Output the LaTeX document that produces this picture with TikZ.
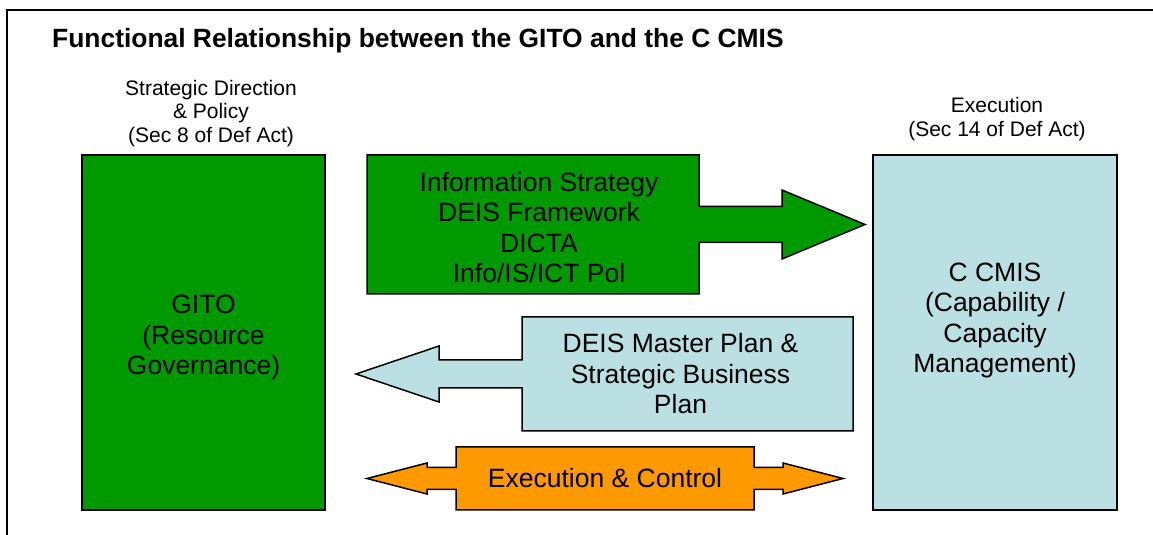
\documentclass[tikz,border=0pt]{standalone}
\usepackage{fontspec}
\setmainfont{Liberation Sans}
\usetikzlibrary{positioning,backgrounds}

\definecolor{gitogreen}{RGB}{0,153,0}
\definecolor{cmisblue}{RGB}{187,224,227}
\definecolor{ctrlorange}{RGB}{255,153,0}

\begin{document}
\begin{tikzpicture}[
        x=1pt, y=1pt,
        font=\fontsize{26.5}{30.5}\selectfont,
        box/.style={draw, line width=1.5pt, inner sep=0pt, align=center},
        lab/.style={font=\fontsize{21}{23.5}\selectfont, align=center, inner sep=0pt},
        txt/.style={align=center, inner sep=0pt, outer sep=0pt},
        shp/.style={draw, line width=1.5pt, line join=miter}
    ]
    \useasboundingbox (0,0) rectangle (1153,535);
    \draw[line width=2pt] (1160,524.7) -- (6.5,524.7) -- (6.5,-5);

    %% ---- title ----
    \node[anchor=base west, inner sep=0pt, font=\fontsize{26.4}{30}\selectfont\bfseries]
        (title) at (52,487) {Functional Relationship between the GITO and the C CMIS};

    %% ---- the two sides ----
    \node[box, fill=gitogreen, minimum width=243, minimum height=355] (gito) at (203.5,202.5) {};
    \node[txt] (gitotext) at ([yshift=-5]gito.center) {GITO\\(Resource\\Governance)};
    \node[box, fill=cmisblue, minimum width=244, minimum height=355] (cmis) at (995,202.5) {};
    \node[txt] (cmistext) at ([yshift=12]cmis.center)
        {C CMIS\\(Capability /\\Capacity\\Management)};

    \node[lab, above=7.5pt of gito, xshift=7.5pt] (policy)
        {Strategic Direction\\\& Policy\\(Sec 8 of Def Act)};
    \node[lab, above=13.5pt of cmis, xshift=2pt] (exec)
        {Execution\\(Sec 14 of Def Act)};

    %% ---- block arrows between them ----
    \node[txt, minimum width=332, minimum height=139] (info) at (533,310.5) {};
    \node[txt] (infotext) at ([xshift=6,yshift=-3]info.center)
        {Information Strategy\\DEIS Framework\\DICTA\\Info/IS/ICT Pol};
    \node[txt, minimum width=331, minimum height=114] (plan) at (687.5,161) {};
    \node[txt] (plantext) at ([xshift=-7]plan.center)
        {DEIS Master Plan \&\\Strategic Business\\Plan};
    \node[txt, minimum width=298, minimum height=63] (ctrl) at (605,56.5)
        {Execution \& Control};

    \begin{scope}[on background layer]
    \draw[shp, fill=gitogreen] (info.north west) -- (info.north east) -- ([yshift=18]info.east)
        -- ++(83,0) -- ++(0,16.5) -- ++(83,-34.5) -- ++(-83,-34.5) -- ++(0,16.5)
        -- ([yshift=-18]info.east) -- (info.south east) -- (info.south west) -- cycle;
    \draw[shp, fill=cmisblue] (plan.north west) -- (plan.north east) -- (plan.south east)
        -- (plan.south west) -- ([yshift=-14]plan.west) -- ++(-83,0) -- ++(0,-14)
        -- ++(-83,28) -- ++(83,28) -- ++(0,-14) -- ([yshift=14]plan.west) -- cycle;
    \draw[shp, fill=ctrlorange] (ctrl.north west) -- (ctrl.north east) -- ([yshift=11]ctrl.east)
        -- ++(29,0) -- ++(0,4.5) -- ++(60,-15.5) -- ++(-60,-15.5) -- ++(0,4.5)
        -- ([yshift=-11]ctrl.east) -- (ctrl.south east) -- (ctrl.south west)
        -- ([yshift=-11]ctrl.west) -- ++(-29,0) -- ++(0,-4.5) -- ++(-60,15.5)
        -- ++(60,15.5) -- ++(0,-4.5) -- ([yshift=11]ctrl.west) -- cycle;
    \end{scope}
\end{tikzpicture}
\end{document}
